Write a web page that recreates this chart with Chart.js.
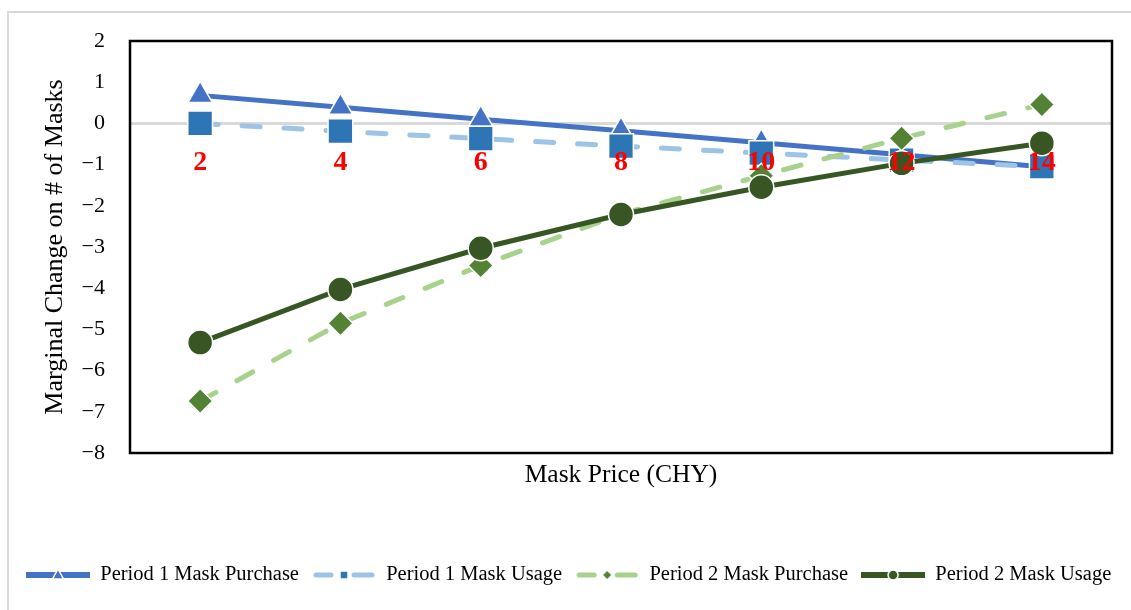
<!DOCTYPE html>
<html>
<head>
<meta charset="utf-8">
<title>Marginal Change on # of Masks by Mask Price</title>
<script src="https://cdn.jsdelivr.net/npm/chart.js@4.4.1/dist/chart.umd.min.js"></script>
<style>
  html, body { margin: 0; padding: 0; background: #ffffff; }
  #wrap { width: 1131px; height: 610px; }
</style>
</head>
<body>
<div id="wrap"><canvas id="chart" width="1131" height="610"></canvas></div>
<script>
// Mask price categories (CHY) and the tick labels drawn in red along the zero line
const prices = ['2', '4', '6', '8', '10', '12', '14'];

// Marginal change on number of masks, per price
const period1Purchase = [0.68, 0.39, 0.10, -0.18, -0.47, -0.76, -1.05];
const period1Usage    = [0.00, -0.19, -0.37, -0.55, -0.72, -0.89, -1.05];
const period2Purchase = [-6.74, -4.85, -3.45, -2.20, -1.27, -0.36, 0.46];
const period2Usage    = [-5.32, -4.03, -3.03, -2.21, -1.55, -0.97, -0.48];

const seriesNames = [
  'Period 1 Mask Purchase',
  'Period 1 Mask Usage',
  'Period 2 Mask Purchase',
  'Period 2 Mask Usage'
];

const FONT = "'Liberation Serif', 'DejaVu Serif', serif";
Chart.defaults.font.family = FONT;
Chart.defaults.color = '#000000';

const SAMPLE_W = 64;

// Small legend samples: line (solid or dashed) with a marker in the middle
function legendSample(kind) {
  const c = document.createElement('canvas');
  c.width = SAMPLE_W; c.height = 16;
  const g = c.getContext('2d');
  const cy = 8, cx = SAMPLE_W / 2;
  g.lineCap = 'round';
  if (kind === 0 || kind === 3) {
    g.lineCap = 'butt';
    g.strokeStyle = kind === 0 ? '#4472C4' : '#375623';
    g.lineWidth = 6;
    g.beginPath(); g.moveTo(0, cy); g.lineTo(SAMPLE_W, cy); g.stroke();
  } else {
    g.strokeStyle = kind === 1 ? '#9DC3E6' : '#A9D18E';
    g.lineWidth = 5;
    g.beginPath(); g.moveTo(4, cy); g.lineTo(cx - 13, cy); g.stroke();
    g.beginPath(); g.moveTo(cx + 10, cy); g.lineTo(SAMPLE_W - 4, cy); g.stroke();
  }
  g.lineWidth = 1.5;
  g.strokeStyle = '#ffffff';
  g.beginPath();
  if (kind === 0) {
    g.fillStyle = '#4472C4';
    g.moveTo(cx, cy - 6); g.lineTo(cx + 5.5, cy + 4); g.lineTo(cx - 5.5, cy + 4); g.closePath();
  } else if (kind === 1) {
    g.fillStyle = '#2E75B6';
    g.rect(cx - 4, cy - 4, 8, 8);
  } else if (kind === 2) {
    g.fillStyle = '#548235';
    g.moveTo(cx, cy - 4); g.lineTo(cx + 4, cy); g.lineTo(cx, cy + 4); g.lineTo(cx - 4, cy); g.closePath();
  } else {
    g.fillStyle = '#375623';
    g.arc(cx, cy, 5, 0, Math.PI * 2);
  }
  g.fill();
  if (kind !== 2) g.stroke();
  return c;
}
const samples = [0, 1, 2, 3].map(legendSample);

// Light frame around the figure and the black box around the plot area
const framePlugin = {
  id: 'frame',
  beforeDraw(chart) {
    const ctx = chart.ctx;
    ctx.save();
    ctx.strokeStyle = '#d9d9d9';
    ctx.lineWidth = 2;
    ctx.beginPath();
    ctx.moveTo(8, 610); ctx.lineTo(8, 12); ctx.lineTo(1131, 12);
    ctx.stroke();
    ctx.restore();
  },
  beforeDatasetsDraw(chart) {
    const a = chart.chartArea;
    const ctx = chart.ctx;
    ctx.save();
    ctx.strokeStyle = '#000000';
    ctx.lineWidth = 2.5;
    ctx.strokeRect(a.left, a.top, a.right - a.left, a.bottom - a.top);
    ctx.restore();
  }
};

// Red price labels placed just under the zero line
const priceLabelPlugin = {
  id: 'priceLabels',
  afterDatasetsDraw(chart) {
    const xs = chart.scales.x, ys = chart.scales.y;
    const ctx = chart.ctx;
    const y0 = ys.getPixelForValue(0);
    ctx.save();
    ctx.font = "bold 28px " + FONT;
    ctx.fillStyle = '#FF0000';
    ctx.textAlign = 'center';
    ctx.textBaseline = 'alphabetic';
    prices.forEach((p, i) => {
      ctx.fillText(p, xs.getPixelForValue(i), y0 + 47);
    });
    ctx.restore();
  }
};

const dashed = [18, 24];

new Chart(document.getElementById('chart'), {
  type: 'line',
  data: {
    labels: prices,
    datasets: [
      {
        label: seriesNames[0],
        data: period1Purchase,
        borderColor: '#4472C4',
        borderWidth: 5,
        pointStyle: 'triangle',
        pointRadius: 14,
        pointBackgroundColor: '#4472C4',
        pointBorderColor: '#ffffff',
        pointBorderWidth: 1.5,
        tension: 0,
        order: 4
      },
      {
        label: seriesNames[1],
        data: period1Usage,
        borderColor: '#9DC3E6',
        borderWidth: 5,
        borderDash: dashed,
        borderCapStyle: 'round',
        pointStyle: 'rect',
        pointRadius: 17.5,
        pointBackgroundColor: '#2E75B6',
        pointBorderColor: '#ffffff',
        pointBorderWidth: 1.5,
        tension: 0,
        order: 3
      },
      {
        label: seriesNames[2],
        data: period2Purchase,
        borderColor: '#A9D18E',
        borderWidth: 5,
        borderDash: dashed,
        borderCapStyle: 'round',
        pointStyle: 'rectRot',
        pointRadius: 12.5,
        pointBackgroundColor: '#548235',
        pointBorderColor: '#ffffff',
        pointBorderWidth: 1.5,
        tension: 0,
        order: 2
      },
      {
        label: seriesNames[3],
        data: period2Usage,
        borderColor: '#375623',
        borderWidth: 5,
        pointStyle: 'circle',
        pointRadius: 12.5,
        pointBackgroundColor: '#375623',
        pointBorderColor: '#ffffff',
        pointBorderWidth: 1.5,
        tension: 0,
        order: 1
      }
    ]
  },
  options: {
    responsive: false,
    animation: false,
    layout: { padding: { top: 41, right: 0, bottom: 14.75, left: 13 } },
    plugins: {
      tooltip: { enabled: false },
      legend: {
        position: 'bottom',
        align: 'start',
        labels: {
          usePointStyle: true,
          pointStyleWidth: SAMPLE_W,
          padding: 13,
          color: '#000000',
          font: { size: 20.5, family: FONT },
          generateLabels(chart) {
            return chart.data.datasets.map((ds, i) => ({
              text: ds.label,
              pointStyle: samples[i],
              fillStyle: 'transparent',
              strokeStyle: 'transparent',
              lineWidth: 0,
              fontColor: '#000000',
              hidden: false,
              datasetIndex: i
            }));
          }
        }
      }
    },
    scales: {
      x: {
        type: 'category',
        offset: true,
        grid: { display: false, drawTicks: false },
        border: { display: false },
        ticks: { display: false },
        title: {
          display: true,
          text: 'Mask Price (CHY)',
          font: { size: 25.5, family: FONT },
          color: '#000000',
          padding: { top: 10, bottom: 61.5 }
        },
        afterFit(scale) { scale.height = 98.75; }
      },
      y: {
        min: -8,
        max: 2,
        border: { display: false },
        grid: {
          drawTicks: false,
          color: ctx => (ctx.tick && ctx.tick.value === 0) ? '#d9d9d9' : 'rgba(0,0,0,0)',
          lineWidth: ctx => (ctx.tick && ctx.tick.value === 0) ? 3 : 0
        },
        ticks: {
          stepSize: 1,
          padding: 25,
          color: '#000000',
          font: { size: 22, family: FONT },
          callback: v => String(v).replace('-', '\u2212')
        },
        title: {
          display: true,
          text: 'Marginal Change on # of Masks',
          font: { size: 26, family: FONT },
          color: '#000000',
          padding: { top: 26.4, bottom: 0 }
        },
        afterFit(scale) { scale.width = 117; }
      },
      // empty spacer on the right side of the plot box
      yRight: {
        position: 'right',
        display: true,
        min: -8,
        max: 2,
        grid: { display: false, drawTicks: false },
        border: { display: false },
        ticks: { display: false },
        afterFit(scale) { scale.width = 18; }
      }
    }
  },
  plugins: [framePlugin, priceLabelPlugin]
});
</script>
</body>
</html>
